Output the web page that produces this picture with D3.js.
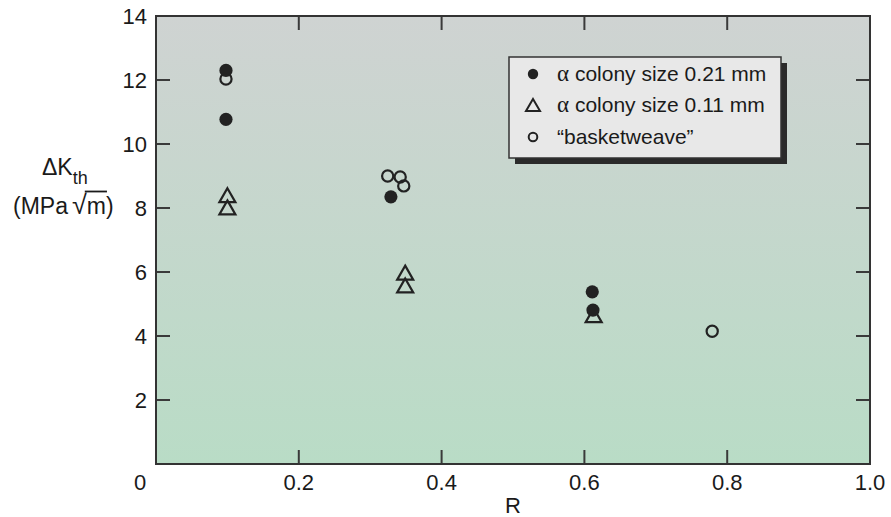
<!DOCTYPE html>
<html>
<head>
<meta charset="utf-8">
<script src="https://cdn.jsdelivr.net/npm/d3@7"></script>
<style>
  html, body { margin: 0; padding: 0; background: #fff; }
  svg { display: block; }
  text { font-family: "Liberation Sans", Arial, Helvetica, sans-serif; fill: #1a1a1a; }
</style>
</head>
<body>
<svg id="chart" width="891" height="517"></svg>
<script>
// ---- data ----
const xTicks = [0.2, 0.4, 0.6, 0.8, 1.0];
const xTickLabels = ["0.2", "0.4", "0.6", "0.8", "1.0"];
const yTicks = [2, 4, 6, 8, 10, 12, 14];
const yTickLabels = ["2", "4", "6", "8", "10", "12", "14"];

const seriesNames = [" colony size 0.21 mm", " colony size 0.11 mm", "\u201cbasketweave\u201d"];
const seriesPrefix = ["\u03b1", "\u03b1", ""];

const coarseR = [0.098, 0.098, 0.329, 0.611, 0.612];
const coarseK = [12.3, 10.77, 8.35, 5.38, 4.81];

const fineR = [0.1, 0.1, 0.349, 0.349, 0.613];
const fineK = [8.4, 8.02, 5.98, 5.58, 4.65];

const basketR = [0.098, 0.3245, 0.342, 0.347, 0.779];
const basketK = [12.03, 9.0, 8.97, 8.69, 4.15];

// ---- layout ----
const svg = d3.select("#chart");
const L = 156, R = 870, T = 16, B = 464;
const x = d3.scaleLinear().domain([0, 1]).range([L, R]);
const y = d3.scaleLinear().domain([0, 14]).range([B, T]);

// background gradient
const defs = svg.append("defs");
const grad = defs.append("linearGradient").attr("id", "bg").attr("x1", 0).attr("y1", 0).attr("x2", 0).attr("y2", 1);
grad.append("stop").attr("offset", "0%").attr("stop-color", "#cfd3d2");
grad.append("stop").attr("offset", "100%").attr("stop-color", "#b9dcc6");
svg.append("rect").attr("x", L).attr("y", T).attr("width", R - L).attr("height", B - T).attr("fill", "url(#bg)");

// ticks (inward, on all four sides)
const tickLen = 14;
const tickColor = "#3a3a3a";
const tg = svg.append("g").attr("stroke", tickColor).attr("stroke-width", 2);
xTicks.forEach(v => {
  if (v >= 1) return;
  tg.append("line").attr("x1", x(v)).attr("x2", x(v)).attr("y1", B).attr("y2", B - tickLen);
  tg.append("line").attr("x1", x(v)).attr("x2", x(v)).attr("y1", T).attr("y2", T + tickLen);
});
yTicks.forEach(v => {
  if (v >= 14) return;
  tg.append("line").attr("x1", L).attr("x2", L + tickLen).attr("y1", y(v)).attr("y2", y(v));
  tg.append("line").attr("x1", R).attr("x2", R - tickLen).attr("y1", y(v)).attr("y2", y(v));
});

// frame
svg.append("rect").attr("x", L).attr("y", T).attr("width", R - L).attr("height", B - T)
  .attr("fill", "none").attr("stroke", "#333").attr("stroke-width", 2);

// tick labels
const fs = 22;
xTicks.forEach((v, i) => {
  svg.append("text").attr("x", x(v)).attr("y", 490).attr("text-anchor", "middle")
    .attr("font-size", fs).text(xTickLabels[i]);
});
svg.append("text").attr("x", 140).attr("y", 490).attr("text-anchor", "middle").attr("font-size", fs).text("0");
yTicks.forEach((v, i) => {
  svg.append("text").attr("x", 147).attr("y", y(v) + 8).attr("text-anchor", "end")
    .attr("font-size", fs).text(yTickLabels[i]);
});

// axis titles
svg.append("text").attr("x", x(0.5)).attr("y", 513).attr("text-anchor", "middle").attr("font-size", fs).text("R");

const yl = svg.append("text").attr("x", 42).attr("y", 175).attr("font-size", 23);
yl.append("tspan").text("\u0394K");
yl.append("tspan").attr("dy", 9).attr("font-size", 18).text("th");

const yl2 = svg.append("text").attr("x", 13).attr("y", 214).attr("font-size", 23);
yl2.append("tspan").text("(MPa");
yl2.append("tspan").attr("dx", 4).attr("font-size", 27).text("\u221a");
yl2.append("tspan").text("m)");
// overline over "m" (part of the radical)
{
  const node = yl2.node();
  const full = node.textContent;
  const idxRad = full.indexOf("\u221a");
  const endRad = node.getEndPositionOfChar(idxRad).x;
  const idxM = full.lastIndexOf("m");
  const endM = node.getEndPositionOfChar(idxM).x;
  svg.append("line").attr("x1", endRad - 2).attr("x2", endM + 1)
    .attr("y1", 191.5).attr("y2", 191.5).attr("stroke", "#1a1a1a").attr("stroke-width", 1.8);
}

// markers
const dark = "#222";
function triPath(cx, cy, hw, hh) {
  return `M${cx},${cy - hh}L${cx + hw},${cy + hh}L${cx - hw},${cy + hh}Z`;
}
const pts = svg.append("g");
pts.selectAll(".tri").data(d3.range(fineR.length)).join("path")
  .attr("d", i => triPath(x(fineR[i]), y(fineK[i]), 8, 7))
  .attr("fill", "none").attr("stroke", dark).attr("stroke-width", 2.2).attr("stroke-linejoin", "miter");
pts.selectAll(".open").data(d3.range(basketR.length)).join("circle")
  .attr("cx", i => x(basketR[i])).attr("cy", i => y(basketK[i])).attr("r", 5.6)
  .attr("fill", "none").attr("stroke", dark).attr("stroke-width", 2.2);
pts.selectAll(".filled").data(d3.range(coarseR.length)).join("circle")
  .attr("cx", i => x(coarseR[i])).attr("cy", i => y(coarseK[i])).attr("r", 6.6)
  .attr("fill", dark);

// legend
const lx = 509, ly = 57, lw = 272, lh = 101;
svg.append("rect").attr("x", lx + 6).attr("y", ly + 6).attr("width", lw).attr("height", lh).attr("fill", "#2a2a2a");
svg.append("rect").attr("x", lx).attr("y", ly).attr("width", lw).attr("height", lh)
  .attr("fill", "#e8e8e8").attr("stroke", "#333").attr("stroke-width", 1.5);
const rows = [74, 105, 137];
const mx = 533;
svg.append("circle").attr("cx", mx).attr("cy", rows[0]).attr("r", 5.2).attr("fill", dark);
svg.append("path").attr("d", triPath(mx, rows[1], 7, 6)).attr("fill", "none").attr("stroke", dark).attr("stroke-width", 2);
svg.append("circle").attr("cx", mx).attr("cy", rows[2]).attr("r", 4.3).attr("fill", "none").attr("stroke", dark).attr("stroke-width", 2);
seriesNames.forEach((s, i) => {
  const t = svg.append("text").attr("x", 557).attr("y", rows[i] + 7).attr("font-size", 21);
  if (seriesPrefix[i]) t.append("tspan").attr("font-family", "'Liberation Serif', 'DejaVu Serif', serif").attr("font-size", 23).text(seriesPrefix[i]);
  t.append("tspan").text(s);
});
</script>
</body>
</html>
